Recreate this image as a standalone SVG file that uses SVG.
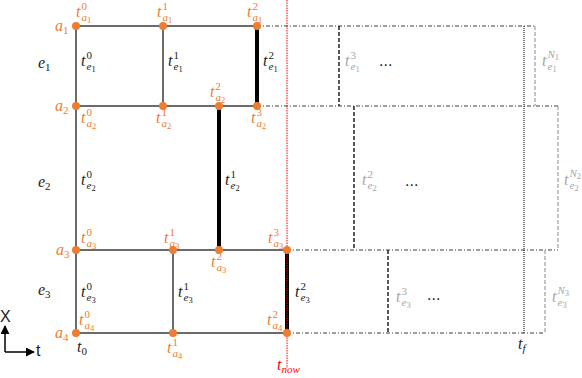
<svg xmlns="http://www.w3.org/2000/svg" width="582" height="378" viewBox="0 0 582 378">
<style>
.ln{stroke:#3a3a3a;stroke-width:1.5;fill:none}
.th{stroke:#000;stroke-width:4;fill:none}
.dd{stroke:#404040;stroke-width:1.2;stroke-dasharray:4 2 1 2;fill:none}
.dk{stroke:#222;stroke-width:1.5;stroke-dasharray:4 2;fill:none}
.dg{stroke:#a6a6a6;stroke-width:1.3;stroke-dasharray:4 2;fill:none}
.dt{stroke:#222;stroke-width:1.2;stroke-dasharray:1 1;fill:none}
.rd{stroke:#ff0000;stroke-width:1;stroke-dasharray:1.5 1;fill:none}
.nd{fill:#ed7d31}
text{font-family:"Liberation Serif","DejaVu Serif",serif;font-style:italic;font-size:16px}
.sc{font-size:11px}
.ss{font-size:8.5px;font-style:normal}
.u{font-style:normal}
.o{fill:#ed7d31}
.k{fill:#222}
.g{fill:#a6a6a6}
.r{fill:#ff0000}
.sans{font-family:"Liberation Sans","DejaVu Sans",sans-serif;font-style:normal}
</style>
<defs>
<marker id="ah" viewBox="0 0 10 10" refX="9" refY="5" markerWidth="6" markerHeight="6" orient="auto-start-reverse">
<path d="M0,0 L10,5 L0,10 z" fill="#000"/>
</marker>
</defs>

<g id="connectors">
<line class="ln" x1="76" y1="26" x2="257" y2="26"/>
<line class="ln" x1="76" y1="106" x2="257" y2="106"/>
<line class="ln" x1="76" y1="250" x2="287" y2="250"/>
<line class="ln" x1="76" y1="333" x2="287" y2="333"/>
<line class="ln" x1="76" y1="26" x2="76" y2="333"/>
<line class="ln" x1="163" y1="26" x2="163" y2="106"/>
<line class="ln" x1="173" y1="250" x2="173" y2="333"/>
<line class="th" x1="257" y1="26" x2="257" y2="106"/>
<line class="th" x1="219" y1="106" x2="219" y2="250"/>
<line class="th" x1="287" y1="250" x2="287" y2="333"/>
<line class="dd" x1="257" y1="26" x2="535" y2="26"/>
<line class="dd" x1="257" y1="106" x2="558" y2="106"/>
<line class="dd" x1="287" y1="250" x2="558" y2="250"/>
<line class="dd" x1="287" y1="333" x2="545" y2="333"/>
<line class="dk" x1="339" y1="26" x2="339" y2="106"/>
<line class="dk" x1="354" y1="106" x2="354" y2="250"/>
<line class="dk" x1="388" y1="250" x2="388" y2="333"/>
<line class="dg" x1="535" y1="26" x2="535" y2="106"/>
<line class="dg" x1="558" y1="106" x2="558" y2="250"/>
<line class="dg" x1="545" y1="250" x2="545" y2="333"/>
<line class="dt" x1="524" y1="26" x2="524" y2="333"/>
<line class="rd" x1="287" y1="0" x2="287" y2="368"/>
<line x1="5" y1="352" x2="5" y2="326" stroke="#000" stroke-width="1.5" marker-end="url(#ah)"/>
<line x1="5" y1="352" x2="34" y2="352" stroke="#000" stroke-width="1.5" marker-end="url(#ah)"/>
</g>

<g id="n-a1-0"><circle class="nd" cx="76" cy="26" r="4"/>
<text class="o" x="55" y="31">a<tspan class="sc u" dy="3">1</tspan></text>
<text class="o" x="76" y="17">t<tspan class="sc u" x="81.5" y="10">0</tspan><tspan class="sc" x="81.5" y="21">a</tspan><tspan class="ss" dy="2">1</tspan></text></g>
<g id="n-a1-1"><circle class="nd" cx="163" cy="26" r="4"/>
<text class="o" x="157" y="17">t<tspan class="sc u" x="162.5" y="10">1</tspan><tspan class="sc" x="162.5" y="21">a</tspan><tspan class="ss" dy="2">1</tspan></text></g>
<g id="n-a1-2"><circle class="nd" cx="257" cy="26" r="4"/>
<text class="o" x="247" y="17">t<tspan class="sc u" x="252.5" y="10">2</tspan><tspan class="sc" x="252.5" y="21">a</tspan><tspan class="ss" dy="2">1</tspan></text></g>

<g id="n-a2-0"><circle class="nd" cx="76" cy="106" r="4"/>
<text class="o" x="55" y="111">a<tspan class="sc u" dy="3">2</tspan></text>
<text class="o" x="81" y="123">t<tspan class="sc u" x="86.5" y="116">0</tspan><tspan class="sc" x="86.5" y="127">a</tspan><tspan class="ss" dy="2">2</tspan></text></g>
<g id="n-a2-1"><circle class="nd" cx="163" cy="106" r="4"/>
<text class="o" x="156" y="123">t<tspan class="sc u" x="161.5" y="116">1</tspan><tspan class="sc" x="161.5" y="127">a</tspan><tspan class="ss" dy="2">2</tspan></text></g>
<g id="n-a2-2"><circle class="nd" cx="219" cy="106" r="4"/>
<text class="o" x="210" y="97">t<tspan class="sc u" x="215.5" y="90">2</tspan><tspan class="sc" x="215.5" y="101">a</tspan><tspan class="ss" dy="2">2</tspan></text></g>
<g id="n-a2-3"><circle class="nd" cx="257" cy="106" r="4"/>
<text class="o" x="251" y="123">t<tspan class="sc u" x="256.5" y="116">3</tspan><tspan class="sc" x="256.5" y="127">a</tspan><tspan class="ss" dy="2">2</tspan></text></g>

<g id="n-a3-0"><circle class="nd" cx="76" cy="250" r="4"/>
<text class="o" x="56" y="255">a<tspan class="sc u" dy="3">3</tspan></text>
<text class="o" x="81" y="243">t<tspan class="sc u" x="86.5" y="236">0</tspan><tspan class="sc" x="86.5" y="247">a</tspan><tspan class="ss" dy="2">3</tspan></text></g>
<g id="n-a3-1"><circle class="nd" cx="173" cy="250" r="4"/>
<text class="o" x="164" y="243">t<tspan class="sc u" x="169.5" y="236">1</tspan><tspan class="sc" x="169.5" y="247">a</tspan><tspan class="ss" dy="2">3</tspan></text></g>
<g id="n-a3-2"><circle class="nd" cx="219" cy="250" r="4"/>
<text class="o" x="211" y="267">t<tspan class="sc u" x="216.5" y="260">2</tspan><tspan class="sc" x="216.5" y="271">a</tspan><tspan class="ss" dy="2">3</tspan></text></g>
<g id="n-a3-3"><circle class="nd" cx="287" cy="250" r="4"/>
<text class="o" x="268" y="243">t<tspan class="sc u" x="273.5" y="236">3</tspan><tspan class="sc" x="273.5" y="247">a</tspan><tspan class="ss" dy="2">3</tspan></text></g>

<g id="n-a4-0"><circle class="nd" cx="76" cy="333" r="4"/>
<text class="o" x="55" y="338">a<tspan class="sc u" dy="3">4</tspan></text>
<text class="o" x="79" y="325">t<tspan class="sc u" x="84.5" y="318">0</tspan><tspan class="sc" x="84.5" y="329">a</tspan><tspan class="ss" dy="2">4</tspan></text></g>
<g id="n-a4-1"><circle class="nd" cx="173" cy="333" r="4"/>
<text class="o" x="167" y="353">t<tspan class="sc u" x="172.5" y="346">1</tspan><tspan class="sc" x="172.5" y="357">a</tspan><tspan class="ss" dy="2">4</tspan></text></g>
<g id="n-a4-2"><circle class="nd" cx="287" cy="333" r="4"/>
<text class="o" x="267" y="325">t<tspan class="sc u" x="272.5" y="318">2</tspan><tspan class="sc" x="272.5" y="329">a</tspan><tspan class="ss" dy="2">4</tspan></text></g>

<g id="labels">
<text class="k" x="38" y="68">e<tspan class="sc u" dy="3">1</tspan></text>
<text class="k" x="38" y="187">e<tspan class="sc u" dy="3">2</tspan></text>
<text class="k" x="38" y="295">e<tspan class="sc u" dy="3">3</tspan></text>

<text class="k" x="81" y="66">t<tspan class="sc u" x="86.5" y="59">0</tspan><tspan class="sc" x="86.5" y="70">e</tspan><tspan class="ss" dy="2">1</tspan></text>
<text class="k" x="168" y="66">t<tspan class="sc u" x="173.5" y="59">1</tspan><tspan class="sc" x="173.5" y="70">e</tspan><tspan class="ss" dy="2">1</tspan></text>
<text class="k" x="263" y="66">t<tspan class="sc u" x="268.5" y="59">2</tspan><tspan class="sc" x="268.5" y="70">e</tspan><tspan class="ss" dy="2">1</tspan></text>
<text class="k" x="81" y="185">t<tspan class="sc u" x="86.5" y="178">0</tspan><tspan class="sc" x="86.5" y="189">e</tspan><tspan class="ss" dy="2">2</tspan></text>
<text class="k" x="225" y="185">t<tspan class="sc u" x="230.5" y="178">1</tspan><tspan class="sc" x="230.5" y="189">e</tspan><tspan class="ss" dy="2">2</tspan></text>
<text class="k" x="81" y="297">t<tspan class="sc u" x="86.5" y="290">0</tspan><tspan class="sc" x="86.5" y="301">e</tspan><tspan class="ss" dy="2">3</tspan></text>
<text class="k" x="178" y="297">t<tspan class="sc u" x="183.5" y="290">1</tspan><tspan class="sc" x="183.5" y="301">e</tspan><tspan class="ss" dy="2">3</tspan></text>
<text class="k" x="295" y="297">t<tspan class="sc u" x="300.5" y="290">2</tspan><tspan class="sc" x="300.5" y="301">e</tspan><tspan class="ss" dy="2">3</tspan></text>

<text class="g" x="345" y="66">t<tspan class="sc u" x="350.5" y="59">3</tspan><tspan class="sc" x="350.5" y="70">e</tspan><tspan class="ss" dy="2">1</tspan></text>
<text class="g" x="542" y="66">t<tspan class="sc" x="547.5" y="58">N</tspan><tspan class="ss" dy="2">1</tspan><tspan class="sc" x="547.5" y="70">e</tspan><tspan class="ss" dy="2">1</tspan></text>
<text class="g" x="362" y="185">t<tspan class="sc u" x="367.5" y="178">2</tspan><tspan class="sc" x="367.5" y="189">e</tspan><tspan class="ss" dy="2">2</tspan></text>
<text class="g" x="564" y="185">t<tspan class="sc" x="569.5" y="177">N</tspan><tspan class="ss" dy="2">2</tspan><tspan class="sc" x="569.5" y="189">e</tspan><tspan class="ss" dy="2">2</tspan></text>
<text class="g" x="396" y="302">t<tspan class="sc u" x="401.5" y="295">3</tspan><tspan class="sc" x="401.5" y="306">e</tspan><tspan class="ss" dy="2">3</tspan></text>
<text class="g" x="552" y="302">t<tspan class="sc" x="557.5" y="294">N</tspan><tspan class="ss" dy="2">3</tspan><tspan class="sc" x="557.5" y="306">e</tspan><tspan class="ss" dy="2">3</tspan></text>

<text class="k sans" x="379" y="66" font-size="14">...</text>
<text class="k sans" x="405" y="186" font-size="14">...</text>
<text class="k sans" x="427" y="300" font-size="14">...</text>

<text class="k" x="77" y="352">t<tspan class="sc u" dy="3">0</tspan></text>
<text class="k" x="518" y="349">t<tspan class="sc" dy="3">f</tspan></text>
<text class="r" x="277" y="370">t<tspan class="sc" dy="3">now</tspan></text>

<text class="k sans" x="0" y="322" font-size="14">X</text>
<text class="k sans" x="36" y="356" font-size="14">t</text>
</g>
</svg>
